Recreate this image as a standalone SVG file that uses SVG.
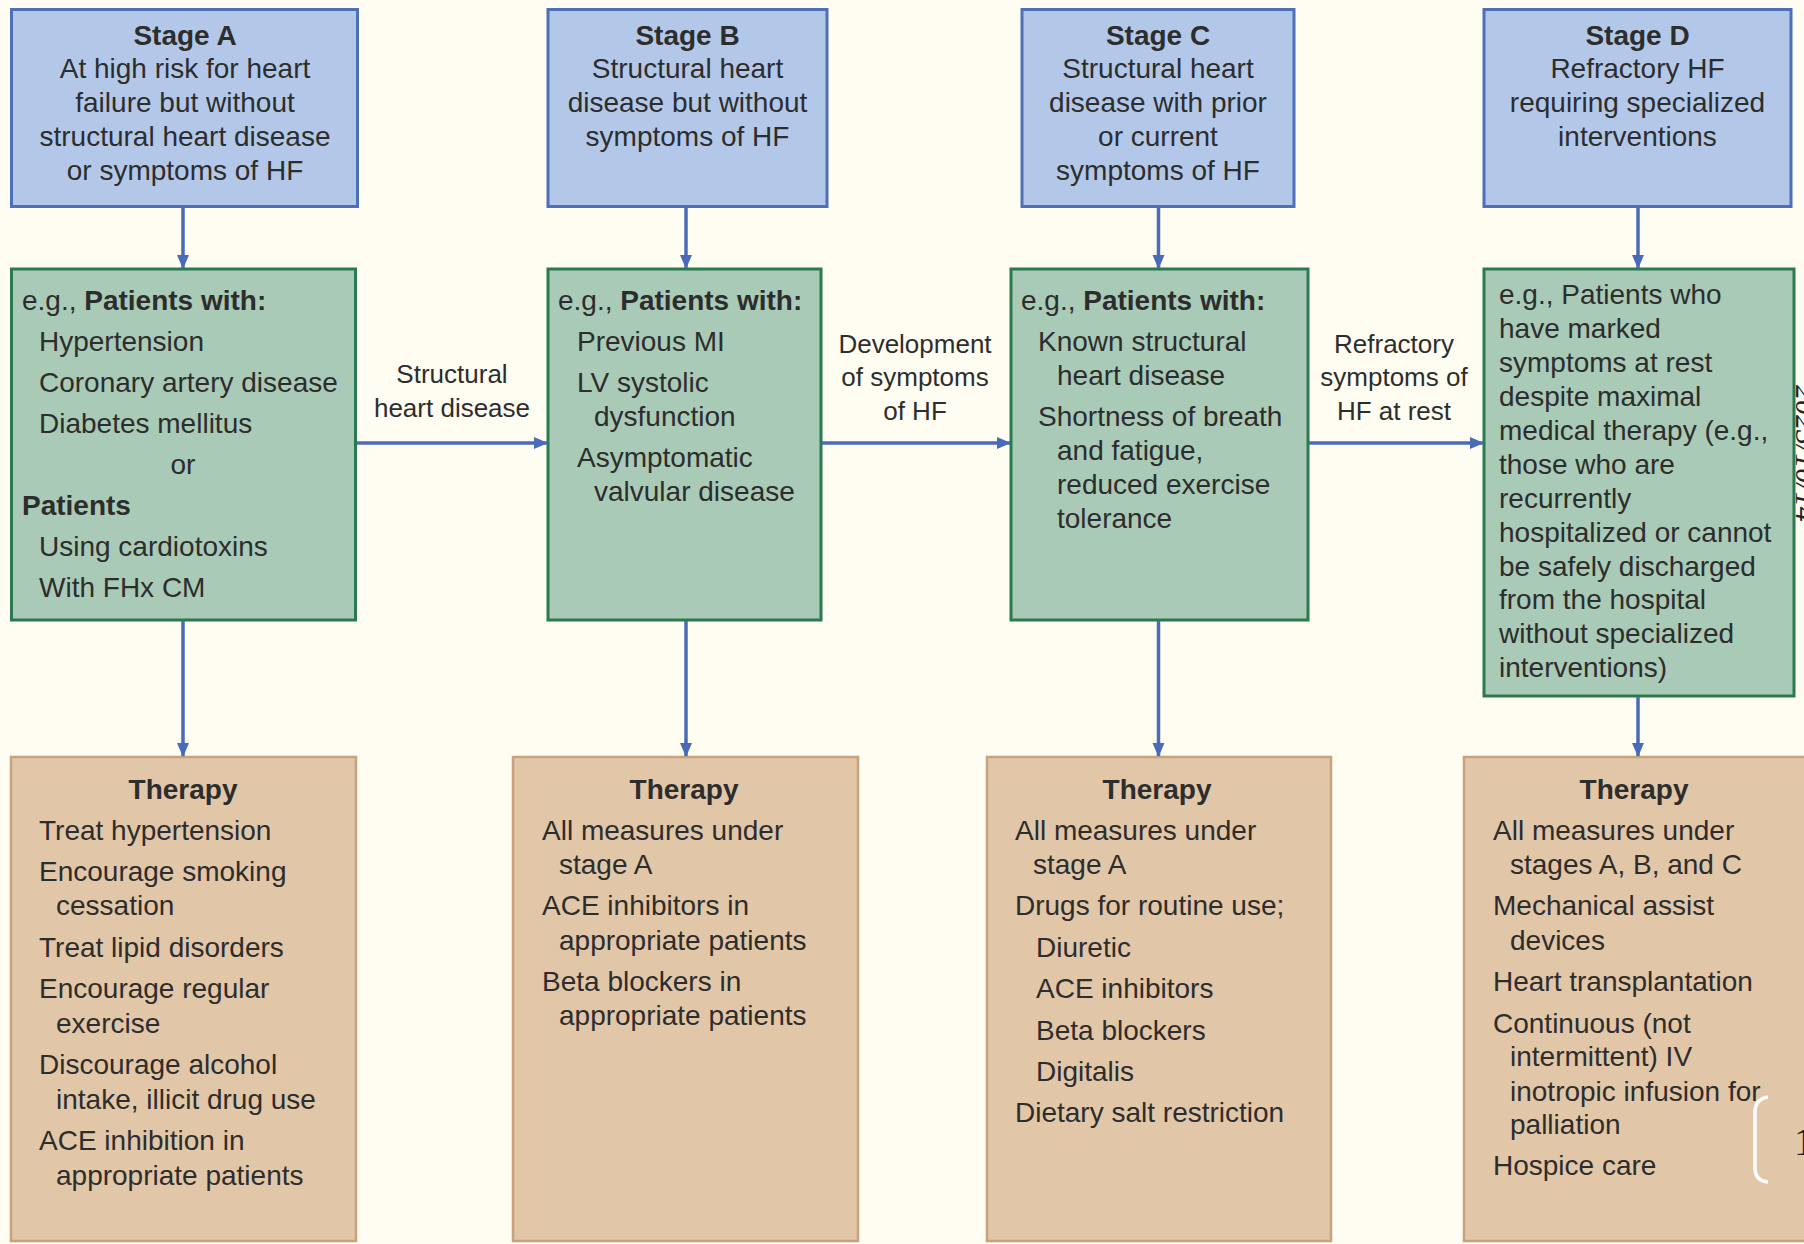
<svg xmlns="http://www.w3.org/2000/svg" width="1804" height="1244" viewBox="0 0 1804 1244">
<defs>
<marker id="ah" viewBox="0 0 14 14" refX="13" refY="7" markerWidth="14" markerHeight="14" markerUnits="userSpaceOnUse" orient="auto">
<path d="M0,1 L14,7 L0,13 Z" fill="#4a6cb8"/>
</marker>
<style>
text{font-family:"Liberation Sans",Arial,Helvetica,sans-serif;font-size:28px;fill:#2d2d2d}
.b{font-weight:bold}
.c{text-anchor:middle}
.lbl{font-size:26px;text-anchor:middle}
.blue{fill:#b3c8e8;stroke:#4d70b8;stroke-width:3}
.green{fill:#a9cab6;stroke:#2b7a4e;stroke-width:3}
.tan{fill:#e2c6a8;stroke:#c6a27e;stroke-width:2.5}
.con{stroke:#4a6cb8;stroke-width:3.5;fill:none;marker-end:url(#ah)}
</style>
</defs>
<rect width="1804" height="1244" fill="#fffdf1"/>

<g id="stageA">
<rect class="blue" x="11.5" y="9.5" width="346" height="197"/>
<text class="c" x="185" y="45"><tspan class="b">Stage A</tspan></text>
<text class="c" x="185" y="78">At high risk for heart</text>
<text class="c" x="185" y="112">failure but without</text>
<text class="c" x="185" y="146">structural heart disease</text>
<text class="c" x="185" y="180">or symptoms of HF</text>
</g>
<g id="stageB">
<rect class="blue" x="548" y="9.5" width="279" height="197"/>
<text class="c b" x="687.5" y="45">Stage B</text>
<text class="c" x="687.5" y="78">Structural heart</text>
<text class="c" x="687.5" y="112">disease but without</text>
<text class="c" x="687.5" y="146">symptoms of HF</text>
</g>
<g id="stageC">
<rect class="blue" x="1022" y="9.5" width="272" height="197"/>
<text class="c b" x="1158" y="45">Stage C</text>
<text class="c" x="1158" y="78">Structural heart</text>
<text class="c" x="1158" y="112">disease with prior</text>
<text class="c" x="1158" y="146">or current</text>
<text class="c" x="1158" y="180">symptoms of HF</text>
</g>
<g id="stageD">
<rect class="blue" x="1484" y="9.5" width="307" height="197"/>
<text class="c b" x="1637.5" y="45">Stage D</text>
<text class="c" x="1637.5" y="78">Refractory HF</text>
<text class="c" x="1637.5" y="112">requiring specialized</text>
<text class="c" x="1637.5" y="146">interventions</text>
</g>

<g id="patientsA">
<rect class="green" x="11.5" y="269" width="344" height="351"/>
<text x="22" y="310">e.g., <tspan class="b">Patients with:</tspan></text>
<text x="39" y="351">Hypertension</text>
<text x="39" y="392">Coronary artery disease</text>
<text x="39" y="433">Diabetes mellitus</text>
<text class="c" x="183" y="474">or</text>
<text class="b" x="22" y="515">Patients</text>
<text x="39" y="556">Using cardiotoxins</text>
<text x="39" y="597">With FHx CM</text>
</g>
<g id="patientsB">
<rect class="green" x="548" y="269" width="273" height="351"/>
<text x="558" y="310">e.g., <tspan class="b">Patients with:</tspan></text>
<text x="577" y="351">Previous MI</text>
<text x="577" y="392">LV systolic</text>
<text x="594" y="426">dysfunction</text>
<text x="577" y="467">Asymptomatic</text>
<text x="594" y="501">valvular disease</text>
</g>
<g id="patientsC">
<rect class="green" x="1011" y="269" width="297" height="351"/>
<text x="1021" y="310">e.g., <tspan class="b">Patients with:</tspan></text>
<text x="1038" y="351">Known structural</text>
<text x="1057" y="385">heart disease</text>
<text x="1038" y="426">Shortness of breath</text>
<text x="1057" y="460">and fatigue,</text>
<text x="1057" y="494">reduced exercise</text>
<text x="1057" y="528">tolerance</text>
</g>
<g id="patientsD">
<rect class="green" x="1484" y="269" width="310" height="427"/>
<text x="1499" y="304">e.g., Patients who</text>
<text x="1499" y="338">have marked</text>
<text x="1499" y="372">symptoms at rest</text>
<text x="1499" y="406">despite maximal</text>
<text x="1499" y="440">medical therapy (e.g.,</text>
<text x="1499" y="474">those who are</text>
<text x="1499" y="508">recurrently</text>
<text x="1499" y="542">hospitalized or cannot</text>
<text x="1499" y="576">be safely discharged</text>
<text x="1499" y="609">from the hospital</text>
<text x="1499" y="643">without specialized</text>
<text x="1499" y="677">interventions)</text>
</g>

<g id="therapyA">
<rect class="tan" x="11" y="757" width="345" height="484"/>
<text class="c b" x="183" y="799">Therapy</text>
<text x="39" y="840">Treat hypertension</text>
<text x="39" y="881">Encourage smoking</text>
<text x="56" y="915">cessation</text>
<text x="39" y="957">Treat lipid disorders</text>
<text x="39" y="998">Encourage regular</text>
<text x="56" y="1033">exercise</text>
<text x="39" y="1074">Discourage alcohol</text>
<text x="56" y="1109">intake, illicit drug use</text>
<text x="39" y="1150">ACE inhibition in</text>
<text x="56" y="1185">appropriate patients</text>
</g>
<g id="therapyB">
<rect class="tan" x="513" y="757" width="345" height="484"/>
<text class="c b" x="684" y="799">Therapy</text>
<text x="542" y="840">All measures under</text>
<text x="559" y="874">stage A</text>
<text x="542" y="915">ACE inhibitors in</text>
<text x="559" y="950">appropriate patients</text>
<text x="542" y="991">Beta blockers in</text>
<text x="559" y="1025">appropriate patients</text>
</g>
<g id="therapyC">
<rect class="tan" x="987" y="757" width="344" height="484"/>
<text class="c b" x="1157" y="799">Therapy</text>
<text x="1015" y="840">All measures under</text>
<text x="1033" y="874">stage A</text>
<text x="1015" y="915">Drugs for routine use;</text>
<text x="1036" y="957">Diuretic</text>
<text x="1036" y="998">ACE inhibitors</text>
<text x="1036" y="1040">Beta blockers</text>
<text x="1036" y="1081">Digitalis</text>
<text x="1015" y="1122">Dietary salt restriction</text>
</g>
<g id="therapyD">
<rect class="tan" x="1464" y="757" width="345" height="484"/>
<text class="c b" x="1634" y="799">Therapy</text>
<text x="1493" y="840">All measures under</text>
<text x="1510" y="874">stages A, B, and C</text>
<text x="1493" y="915">Mechanical assist</text>
<text x="1510" y="950">devices</text>
<text x="1493" y="991">Heart transplantation</text>
<text x="1493" y="1033">Continuous (not</text>
<text x="1510" y="1066">intermittent) IV</text>
<text x="1510" y="1101">inotropic infusion for</text>
<text x="1510" y="1134">palliation</text>
<text x="1493" y="1175">Hospice care</text>
</g>

<g id="connectors">
<line class="con" x1="183" y1="208" x2="183" y2="268"/>
<line class="con" x1="686" y1="208" x2="686" y2="268"/>
<line class="con" x1="1158.5" y1="208" x2="1158.5" y2="268"/>
<line class="con" x1="1638" y1="208" x2="1638" y2="268"/>
<line class="con" x1="183" y1="621" x2="183" y2="756"/>
<line class="con" x1="686" y1="621" x2="686" y2="756"/>
<line class="con" x1="1158.5" y1="621" x2="1158.5" y2="756"/>
<line class="con" x1="1638" y1="697" x2="1638" y2="756"/>
<line class="con" x1="357" y1="443" x2="547" y2="443"/>
<line class="con" x1="822" y1="443" x2="1010" y2="443"/>
<line class="con" x1="1309" y1="443" x2="1483" y2="443"/>
<text class="lbl" x="452" y="383">Structural</text>
<text class="lbl" x="452" y="417">heart disease</text>
<text class="lbl" x="915" y="353">Development</text>
<text class="lbl" x="915" y="386">of symptoms</text>
<text class="lbl" x="915" y="420">of HF</text>
<text class="lbl" x="1394" y="353">Refractory</text>
<text class="lbl" x="1394" y="386">symptoms of</text>
<text class="lbl" x="1394" y="420">HF at rest</text>
</g>

<g id="overlay">
<text x="1796" y="385" transform="rotate(90 1796 385)" style="font-family:'Liberation Serif',serif;font-size:30px;font-style:italic;fill:#222">2023/10/14</text>
<path d="M1768,1097 Q1755,1099 1755,1112 L1755,1168 Q1755,1181 1768,1182" fill="none" stroke="#ffffff" stroke-width="3.5"/>
<text x="1794" y="1155" style="font-family:'Liberation Serif',serif;font-size:40px;fill:#222">1</text>
</g>
</svg>
